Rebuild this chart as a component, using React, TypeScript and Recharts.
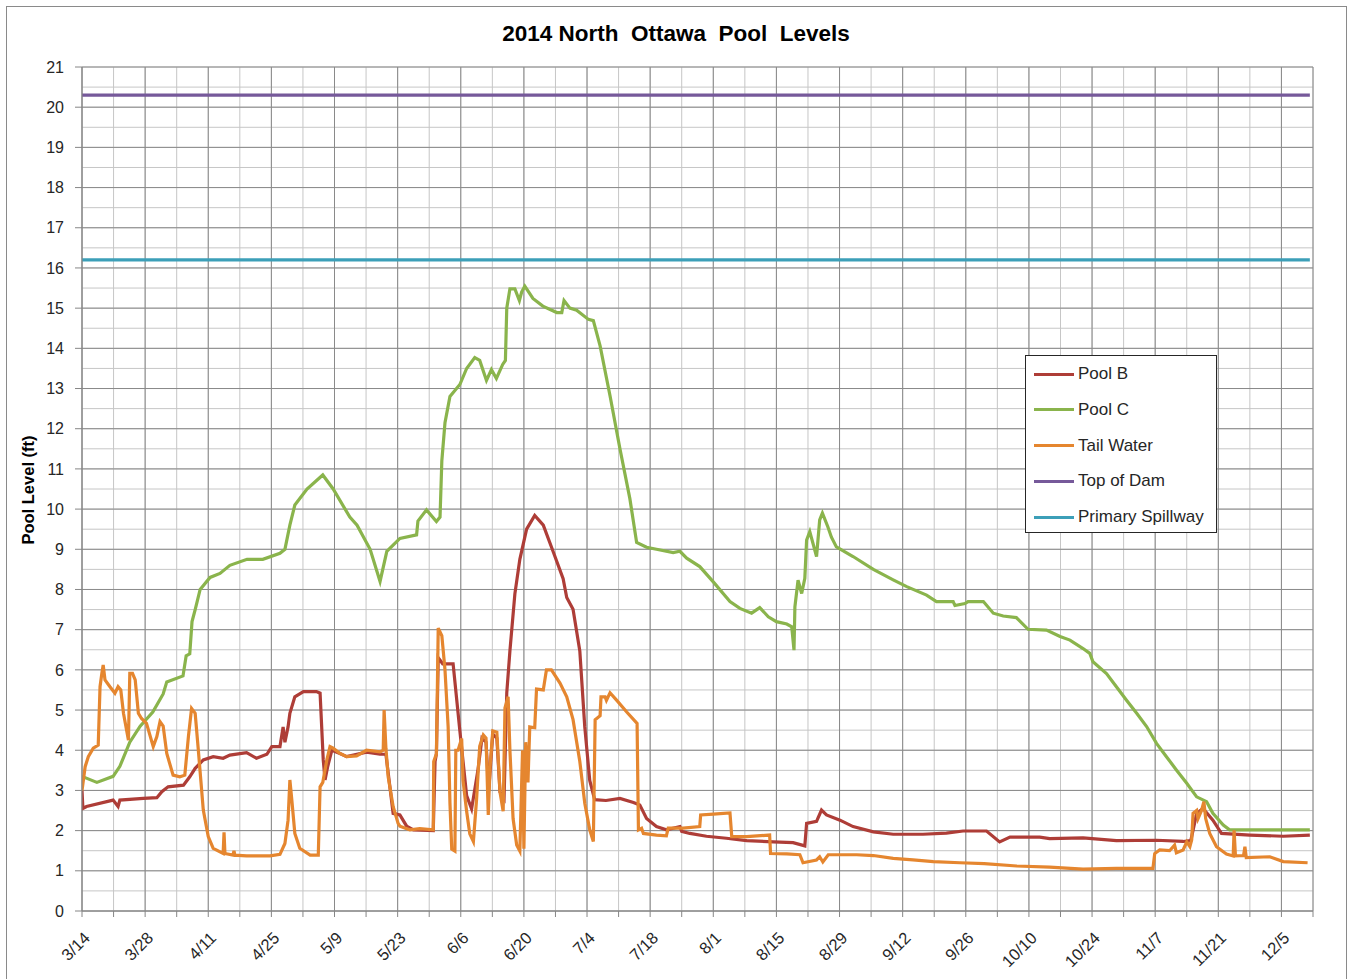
import React from 'react';
import { LineChart, Line, XAxis, YAxis, CartesianGrid } from 'recharts';

// Days counted from 3/14/2014
const xTickDays = Array.from({ length: 40 }, (_, i) => i * 7);
const xMajorDays = Array.from({ length: 20 }, (_, i) => i * 14);
const xTickLabels = ['3/14', '3/28', '4/11', '4/25', '5/9', '5/23', '6/6', '6/20', '7/4', '7/18', '8/1', '8/15', '8/29', '9/12', '9/26', '10/10', '10/24', '11/7', '11/21', '12/5'];
const yMajorTicks = Array.from({ length: 22 }, (_, i) => i);
const yMinorTicks = Array.from({ length: 43 }, (_, i) => i / 2);

const poolB: [number, number][] = [
  [0, 3.0], [0.2, 2.55], [1.0, 2.6], [6.9, 2.76], [8.0, 2.6], [8.4, 2.76], [13.6, 2.8], [16.6, 2.82], [17.7, 2.97], [19.1, 3.09], [22.5, 3.13], [23.9, 3.34], [25.1, 3.55], [26.9, 3.76], [29.1, 3.84], [31.3, 3.8], [32.8, 3.88], [36.5, 3.94], [38.7, 3.8], [41.0, 3.9], [42.1, 4.09], [43.9, 4.09], [44.6, 4.58], [45.0, 4.2], [45.7, 4.58], [46.1, 4.92], [47.2, 5.33], [49.1, 5.46], [52.0, 5.46], [52.8, 5.42], [53.5, 3.76], [53.9, 3.26], [54.5, 3.6], [55.4, 4.0], [57.2, 3.92], [58.7, 3.84], [63.1, 3.95], [66.1, 3.9], [67.4, 3.9], [69.0, 2.43], [70.5, 2.39], [72.0, 2.11], [73.5, 2.02], [77.9, 2.0], [78.3, 3.72], [78.6, 3.91], [79.0, 6.3], [80.0, 6.15], [82.3, 6.15], [83.8, 4.48], [85.3, 2.87], [86.4, 2.54], [87.8, 3.5], [88.7, 4.3], [89.6, 4.2], [90.2, 3.0], [91.1, 4.4], [92.0, 4.3], [92.7, 2.96], [93.6, 2.8], [94.2, 5.43], [94.9, 6.47], [96.0, 7.89], [97.1, 8.75], [98.6, 9.5], [100.4, 9.84], [102.3, 9.6], [104.5, 8.94], [106.7, 8.27], [107.5, 7.8], [108.9, 7.51], [110.4, 6.47], [111.5, 4.58], [112.6, 3.25], [113.7, 2.77], [116.2, 2.75], [119.3, 2.8], [122.3, 2.7], [123.7, 2.64], [125.2, 2.3], [127.4, 2.1], [129.6, 2.02], [132.6, 2.1], [133.0, 1.98], [134.8, 1.93], [138.5, 1.86], [142.9, 1.81], [147.4, 1.75], [153.3, 1.72], [157.7, 1.7], [160.3, 1.62], [160.7, 2.18], [162.9, 2.23], [164.0, 2.51], [165.1, 2.39], [168.1, 2.26], [171.0, 2.1], [175.5, 1.97], [179.9, 1.91], [186.5, 1.91], [191.7, 1.94], [195.4, 1.99], [200.6, 1.99], [203.5, 1.72], [205.8, 1.84], [212.4, 1.84], [214.6, 1.8], [222.0, 1.82], [229.4, 1.75], [238.3, 1.76], [244.2, 1.73], [245.9, 1.75], [247.2, 2.43], [248.6, 2.55], [250.8, 2.26], [252.7, 1.93], [259.0, 1.89], [266.4, 1.86], [272.3, 1.89],
];

const poolC: [number, number][] = [
  [0, 3.35], [3.3, 3.2], [6.9, 3.35], [8.4, 3.6], [10.6, 4.2], [12.9, 4.6], [15.7, 4.95], [18.0, 5.4], [18.8, 5.7], [22.4, 5.85], [23.1, 6.35], [23.9, 6.4], [24.4, 7.2], [25.1, 7.5], [26.2, 8.0], [28.4, 8.3], [30.6, 8.4], [32.8, 8.6], [36.6, 8.75], [40.1, 8.75], [43.9, 8.9], [45.0, 9.0], [46.1, 9.6], [47.2, 10.1], [49.9, 10.5], [53.4, 10.85], [55.7, 10.5], [59.4, 9.8], [61.0, 9.6], [63.9, 9.0], [66.1, 8.2], [67.6, 8.95], [70.5, 9.27], [74.2, 9.36], [74.5, 9.7], [76.4, 9.98], [78.6, 9.69], [79.4, 9.8], [79.8, 11.2], [80.5, 12.15], [81.6, 12.8], [83.8, 13.1], [85.3, 13.5], [87.1, 13.77], [88.2, 13.7], [89.7, 13.2], [90.8, 13.47], [91.9, 13.25], [93.3, 13.6], [93.9, 13.7], [94.2, 15.0], [94.9, 15.48], [96.0, 15.48], [97.0, 15.19], [97.5, 15.4], [98.2, 15.55], [100.0, 15.24], [102.2, 15.05], [105.3, 14.89], [106.4, 14.89], [106.9, 15.19], [108.2, 15.0], [109.7, 14.95], [112.3, 14.72], [113.4, 14.69], [114.9, 14.06], [117.1, 12.82], [119.3, 11.5], [121.5, 10.26], [123.0, 9.17], [125.2, 9.05], [127.4, 9.0], [131.1, 8.92], [132.6, 8.95], [134.1, 8.78], [137.0, 8.57], [140.0, 8.19], [143.7, 7.7], [145.9, 7.53], [148.5, 7.41], [150.3, 7.55], [152.2, 7.32], [154.0, 7.2], [156.3, 7.14], [157.4, 7.07], [157.9, 6.49], [158.1, 7.57], [158.8, 8.23], [159.6, 7.9], [160.3, 8.28], [160.7, 9.23], [161.4, 9.44], [162.9, 8.82], [163.6, 9.73], [164.2, 9.9], [165.4, 9.56], [166.2, 9.3], [167.3, 9.06], [171.0, 8.82], [175.5, 8.5], [179.9, 8.24], [182.9, 8.07], [187.3, 7.86], [189.5, 7.7], [193.2, 7.7], [193.6, 7.6], [195.8, 7.65], [196.5, 7.7], [199.9, 7.7], [202.1, 7.41], [204.3, 7.34], [207.2, 7.3], [209.8, 7.01], [213.9, 6.99], [216.9, 6.83], [219.1, 6.74], [222.0, 6.53], [223.5, 6.41], [224.2, 6.2], [227.2, 5.91], [229.4, 5.58], [231.6, 5.25], [233.9, 4.92], [236.1, 4.59], [238.3, 4.17], [240.5, 3.84], [242.7, 3.51], [245.0, 3.18], [247.2, 2.84], [249.4, 2.72], [250.8, 2.43], [253.1, 2.14], [254.5, 2.02], [272.3, 2.02],
];

const tailWater: [number, number][] = [
  [0, 3.0], [0.7, 3.59], [1.4, 3.84], [2.5, 4.05], [3.6, 4.13], [4.0, 5.58], [4.4, 5.91], [4.7, 6.12], [5.1, 5.75], [6.2, 5.58], [7.3, 5.42], [8.0, 5.58], [8.6, 5.5], [9.2, 4.92], [10.3, 4.25], [10.6, 5.91], [11.2, 5.91], [11.8, 5.75], [12.5, 4.92], [13.2, 4.79], [14.3, 4.67], [15.8, 4.09], [16.6, 4.34], [17.3, 4.71], [18.0, 4.6], [18.8, 3.92], [20.2, 3.38], [21.7, 3.34], [22.8, 3.38], [23.6, 4.34], [24.3, 5.04], [25.1, 4.92], [25.8, 4.0], [26.9, 2.51], [28.0, 1.85], [29.1, 1.56], [31.3, 1.43], [31.5, 1.96], [31.7, 1.43], [33.5, 1.39], [33.7, 1.5], [33.9, 1.39], [36.5, 1.37], [41.7, 1.37], [43.9, 1.41], [45.0, 1.68], [45.7, 2.26], [46.1, 3.26], [46.5, 2.8], [47.2, 1.93], [48.3, 1.56], [50.6, 1.39], [52.4, 1.39], [52.8, 3.09], [53.4, 3.2], [54.3, 3.76], [55.0, 4.09], [55.7, 4.05], [57.2, 3.92], [58.7, 3.84], [60.9, 3.86], [63.1, 4.0], [66.1, 3.96], [66.8, 4.0], [67.0, 5.0], [67.4, 4.05], [67.9, 3.34], [69.0, 2.6], [70.1, 2.18], [70.5, 2.11], [72.7, 2.02], [74.9, 2.05], [77.9, 2.02], [78.0, 3.72], [78.6, 3.91], [79.0, 7.04], [79.8, 6.85], [80.5, 6.0], [81.2, 4.58], [81.6, 2.69], [82.0, 1.54], [82.7, 1.49], [82.9, 4.0], [83.4, 4.0], [84.2, 4.29], [84.5, 3.25], [85.3, 2.48], [86.0, 1.92], [86.8, 1.73], [87.5, 2.77], [88.2, 4.1], [89.0, 4.38], [89.6, 4.3], [90.1, 2.39], [90.5, 3.6], [91.1, 4.48], [92.0, 4.45], [92.7, 2.96], [93.4, 2.48], [93.8, 5.05], [94.5, 5.33], [94.9, 4.0], [95.6, 2.3], [96.4, 1.64], [97.1, 1.49], [97.7, 4.0], [98.0, 1.55], [98.4, 4.2], [98.9, 3.2], [99.3, 4.58], [100.4, 4.56], [100.8, 5.52], [102.3, 5.5], [103.0, 6.0], [104.1, 6.0], [106.0, 5.67], [107.5, 5.33], [108.9, 4.76], [110.4, 3.72], [111.5, 2.68], [112.6, 2.02], [113.4, 1.73], [113.8, 4.76], [114.9, 4.86], [115.1, 5.33], [116.0, 5.33], [116.3, 5.24], [117.1, 5.43], [118.6, 5.24], [120.8, 4.95], [123.1, 4.67], [123.4, 2.02], [124.1, 2.06], [124.5, 1.93], [127.4, 1.89], [129.6, 1.87], [130.0, 2.06], [133.3, 2.06], [137.0, 2.1], [137.2, 2.39], [140.0, 2.41], [143.7, 2.44], [144.1, 1.85], [147.4, 1.85], [152.5, 1.89], [152.7, 1.43], [156.3, 1.42], [159.2, 1.4], [159.9, 1.2], [162.9, 1.27], [163.6, 1.35], [164.3, 1.22], [165.5, 1.4], [171.8, 1.4], [175.5, 1.38], [179.9, 1.31], [184.3, 1.27], [188.8, 1.23], [194.7, 1.2], [200.1, 1.18], [207.3, 1.12], [214.6, 1.09], [222.0, 1.04], [229.4, 1.06], [237.5, 1.06], [237.9, 1.43], [239.0, 1.52], [241.2, 1.5], [242.3, 1.64], [242.7, 1.45], [244.2, 1.52], [245.0, 1.72], [245.7, 1.6], [246.1, 1.77], [246.4, 2.43], [247.2, 2.5], [247.5, 2.3], [248.3, 2.51], [248.8, 2.72], [249.2, 2.3], [250.1, 1.93], [251.6, 1.6], [253.8, 1.42], [255.3, 1.37], [255.5, 2.01], [255.8, 1.37], [257.6, 1.38], [257.9, 1.6], [258.2, 1.33], [263.4, 1.35], [266.4, 1.23], [271.8, 1.2],
];

const topOfDam: [number, number][] = [[0, 20.3], [272.3, 20.3]];
const primarySpillway: [number, number][] = [[0, 16.2], [272.3, 16.2]];

const seriesNames = ['Pool B', 'Pool C', 'Tail Water', 'Top of Dam', 'Primary Spillway'];
const seriesColors = ['#AE3D37', '#8AB44C', '#E5862F', '#76599A', '#3C9FB8'];
const seriesData = [poolB, poolC, tailWater, topOfDam, primarySpillway];

const FONT = '"Liberation Sans", Arial, sans-serif';
const toRows = (arr: [number, number][]) => arr.map(([d, v]) => ({ d, v }));

const XTick = (props: any) => {
  const { x, y, payload } = props;
  const idx = xMajorDays.indexOf(payload.value);
  if (idx < 0) return null;
  return (
    <text
      x={0}
      y={0}
      transform={`translate(${x + 9},${y + 20}) rotate(-45)`}
      textAnchor="end"
      fontSize={16.5}
      fontFamily={FONT}
      fill="#262626"
    >
      {xTickLabels[idx]}
    </text>
  );
};

export default function App() {
  return (
    <div style={{ position: 'absolute', left: 0, top: 0, width: 1352, height: 979, background: '#fff', overflow: 'hidden' }}>
      <div style={{ position: 'absolute', left: 6, top: 6, width: 1339, height: 1000, border: '1px solid #8a8a8a' }} />
      <div style={{ position: 'absolute', left: 0, top: 21, width: 1352, textAlign: 'center', fontFamily: FONT, fontWeight: 'bold', fontSize: 22.5, color: '#000' }}>
        2014 North&nbsp; Ottawa&nbsp; Pool&nbsp; Levels
      </div>
      <div style={{ position: 'absolute', left: 28, top: 490, transform: 'translate(-50%,-50%) rotate(-90deg)', whiteSpace: 'nowrap', fontFamily: FONT, fontWeight: 'bold', fontSize: 16.5, color: '#000' }}>
        Pool Level (ft)
      </div>
      <div style={{ position: 'absolute', left: 0, top: 0 }}>
        <LineChart width={1352} height={979} margin={{ top: 67, right: 39, bottom: 8, left: 22 }}>
          <XAxis
            xAxisId="x"
            type="number"
            dataKey="d"
            domain={[0, 273]}
            ticks={xTickDays}
            interval={0}
            allowDataOverflow
            height={60}
            tickSize={6}
            stroke="#868686"
            tick={<XTick />}
          />
          <XAxis xAxisId="xMajor" type="number" dataKey="d" domain={[0, 273]} ticks={xMajorDays} interval={0} hide allowDataOverflow />
          <YAxis
            yAxisId="y"
            type="number"
            domain={[0, 21]}
            ticks={yMajorTicks}
            interval={0}
            width={60}
            tickSize={7}
            tickMargin={11}
            stroke="#868686"
            tick={{ fontSize: 16, fontFamily: FONT, fill: '#262626' }}
            allowDataOverflow
          />
          <YAxis yAxisId="yMinor" type="number" domain={[0, 21]} ticks={yMinorTicks} interval={0} hide allowDataOverflow />
          <CartesianGrid xAxisId="x" yAxisId="yMinor" stroke="#c6c6c6" strokeWidth={1} />
          <CartesianGrid xAxisId="xMajor" yAxisId="y" stroke="#8a8a8a" strokeWidth={1} />
          {seriesData.map((arr, i) => (
            <Line
              key={seriesNames[i]}
              xAxisId="x"
              yAxisId="y"
              data={toRows(arr)}
              dataKey="v"
              name={seriesNames[i]}
              type="linear"
              stroke={seriesColors[i]}
              strokeWidth={3.2}
              dot={false}
              activeDot={false}
              isAnimationActive={false}
            />
          ))}
        </LineChart>
      </div>
      <div style={{ position: 'absolute', left: 1025, top: 355, width: 190, height: 176, border: '1px solid #262626', background: '#fff', fontFamily: FONT, fontSize: 17, color: '#262626' }}>
        {seriesNames.map((n, i) => (
          <div key={n} style={{ position: 'absolute', left: 8, top: 8 + i * 35.8, height: 20, display: 'flex', alignItems: 'center' }}>
            <div style={{ width: 40, height: 3, background: seriesColors[i], marginRight: 4 }} />
            <span>{n}</span>
          </div>
        ))}
      </div>
    </div>
  );
}
